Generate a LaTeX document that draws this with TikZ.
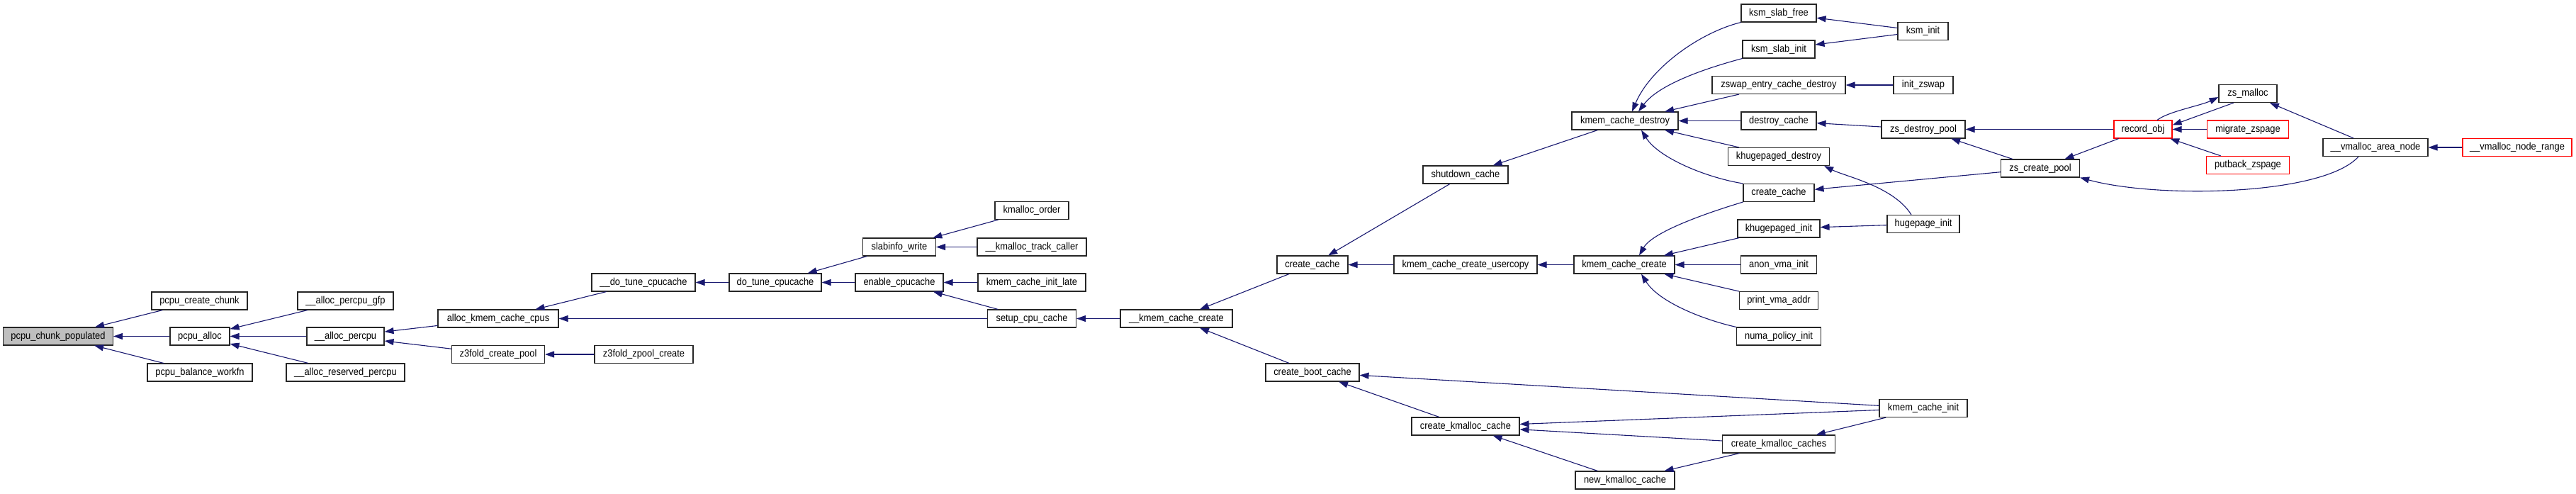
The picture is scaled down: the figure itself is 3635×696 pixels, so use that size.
\documentclass[tikz,border=0pt]{standalone}
\usepackage{fontspec}
\newfontfamily\dotfont{Liberation Sans}[FakeStretch=0.9]
\usetikzlibrary{arrows.meta}
\definecolor{edgeblue}{RGB}{25,25,112}
\definecolor{rootgray}{RGB}{191,191,191}

\begin{document}
\begin{tikzpicture}[x=1pt, y=-1pt, every node/.style={inner sep=0pt},
  fn/.style={draw=black!85, line width=1.1pt, fill=white, minimum height=25pt, font=\dotfont\fontsize{14.3}{16}\selectfont},
  fnred/.style={fn, draw=red},
  call/.style={edgeblue, line width=1.1pt, -{Triangle[length=13pt,width=9pt]}}]
\useasboundingbox (0,0) rectangle (3635,696);
% --- percpu side ---
\node[fn, fill=rootgray, minimum width=155pt] (populated) at (82,474.5) {pcpu\_chunk\_populated};
\node[fn, minimum width=135pt] (createchunk) at (281.5,424.5) {pcpu\_create\_chunk};
\node[fn, minimum width=84pt] (pcpualloc) at (282,474.5) {pcpu\_alloc};
\node[fn, minimum width=148pt] (balance) at (282,525.5) {pcpu\_balance\_workfn};
\node[fn, minimum width=135pt] (percpugfp) at (487.5,424.5) {\_\_alloc\_percpu\_gfp};
\node[fn, minimum width=109pt] (allocpercpu) at (487.5,474.5) {\_\_alloc\_percpu};
\node[fn, minimum width=167pt] (reserved) at (487.5,525.5) {\_\_alloc\_reserved\_percpu};
\node[fn, minimum width=170pt] (kmemcpus) at (703,449.5) {alloc\_kmem\_cache\_cpus};
\node[fn, minimum width=131pt] (z3pool) at (703,500) {z3fold\_create\_pool};
\node[fn, minimum width=146pt] (dotunex) at (908,398.5) {\_\_do\_tune\_cpucache};
\node[fn, minimum width=139pt] (z3zpool) at (908.5,500) {z3fold\_zpool\_create};
\node[fn, minimum width=130pt] (dotune) at (1094,398.5) {do\_tune\_cpucache};
% --- slab side ---
\node[fn, minimum width=103pt] (slabinfo) at (1269,348.5) {slabinfo\_write};
\node[fn, minimum width=124pt] (enablecc) at (1269,398.5) {enable\_cpucache};
\node[fn, minimum width=104pt] (kmorder) at (1456,297) {kmalloc\_order};
\node[fn, minimum width=154pt] (trackcaller) at (1456,348.5) {\_\_kmalloc\_track\_caller};
\node[fn, minimum width=152pt] (initlate) at (1456,398.5) {kmem\_cache\_init\_late};
\node[fn, minimum width=125pt] (setupcc) at (1456,449.5) {setup\_cpu\_cache};
\node[fn, minimum width=158pt] (kcreatex) at (1660,449.5) {\_\_kmem\_cache\_create};
\node[fn, minimum width=100pt] (cachea) at (1852,373.5) {create\_cache};
\node[fn, minimum width=132pt] (bootcache) at (1852,525.5) {create\_boot\_cache};
\node[fn, minimum width=120pt] (shutdown) at (2068,246.5) {shutdown\_cache};
\node[fn, minimum width=202pt] (usercopy) at (2068,373.5) {kmem\_cache\_create\_usercopy};
\node[fn, minimum width=152pt] (kmcache) at (2068,601.5) {create\_kmalloc\_cache};
\node[fn, minimum width=150pt] (destroy) at (2293,170.5) {kmem\_cache\_destroy};
\node[fn, minimum width=142pt] (kcreate) at (2292,373.5) {kmem\_cache\_create};
\node[fn, minimum width=140pt] (newkm) at (2293,677.5) {new\_kmalloc\_cache};
% --- callers of the kmem_cache api ---
\node[fn, minimum width=106pt] (ksmfree) at (2510,18.5) {ksm\_slab\_free};
\node[fn, minimum width=102pt] (ksmslab) at (2510,69.5) {ksm\_slab\_init};
\node[fn, minimum width=188pt] (zswapdestroy) at (2510,120) {zswap\_entry\_cache\_destroy};
\node[fn, minimum width=106pt] (destroycache) at (2510,170.5) {destroy\_cache};
\node[fn, minimum width=143pt] (khdestroy) at (2510,221) {khugepaged\_destroy};
\node[fn, minimum width=100pt] (cacheb) at (2510,272) {create\_cache};
\node[fn, minimum width=116pt] (khinit) at (2510,322.5) {khugepaged\_init};
\node[fn, minimum width=107pt] (anonvma) at (2510,373.5) {anon\_vma\_init};
\node[fn, minimum width=111pt] (printvma) at (2510,424) {print\_vma\_addr};
\node[fn, minimum width=119pt] (numa) at (2510,474.5) {numa\_policy\_init};
\node[fn, minimum width=159pt] (kmcaches) at (2510,626.5) {create\_kmalloc\_caches};
\node[fn, minimum width=71pt] (ksminit) at (2713.5,44) {ksm\_init};
\node[fn, minimum width=84pt] (initzswap) at (2714,120) {init\_zswap};
\node[fn, minimum width=118pt] (zsdestroy) at (2714,182.5) {zs\_destroy\_pool};
\node[fn, minimum width=102pt] (hugeinit) at (2714,316) {hugepage\_init};
\node[fn, minimum width=124pt] (kcinit) at (2714,576) {kmem\_cache\_init};
% --- zsmalloc / vmalloc ---
\node[fn, minimum width=111pt] (zscreate) at (2879,237.5) {zs\_create\_pool};
\node[fnred, minimum width=82pt] (recordobj) at (3024,182.5) {record\_obj};
\node[fn, minimum width=82pt] (zsmalloc) at (3172,132) {zs\_malloc};
\node[fnred, minimum width=115pt] (migrate) at (3172,182.5) {migrate\_zspage};
\node[fnred, minimum width=117pt] (putback) at (3172,233) {putback\_zspage};
\node[fn, minimum width=148pt] (vmarea) at (3352,208) {\_\_vmalloc\_area\_node};
\node[fnred, minimum width=154pt] (vmrange) at (3552,208) {\_\_vmalloc\_node\_range};
% --- calls ---
\foreach \a/\b in {createchunk/populated, pcpualloc/populated, balance/populated,
  percpugfp/pcpualloc, allocpercpu/pcpualloc, reserved/pcpualloc,
  kmemcpus/allocpercpu, z3pool/allocpercpu, dotunex/kmemcpus, setupcc/kmemcpus, z3zpool/z3pool,
  dotune/dotunex, slabinfo/dotune, enablecc/dotune, kmorder/slabinfo, trackcaller/slabinfo,
  initlate/enablecc, setupcc/enablecc, kcreatex/setupcc, cachea/kcreatex, bootcache/kcreatex,
  shutdown/cachea, usercopy/cachea, destroy/shutdown, kcreate/usercopy,
  zswapdestroy/destroy, destroycache/destroy, khdestroy/destroy,
  ksminit/ksmfree, ksminit/ksmslab, initzswap/zswapdestroy, zsdestroy/destroycache,
  zscreate/cacheb, hugeinit/khinit, khinit/kcreate, anonvma/kcreate, printvma/kcreate,
  recordobj/zsdestroy, zscreate/zsdestroy, recordobj/zscreate, migrate/recordobj, putback/recordobj,
  vmarea/zsmalloc, vmrange/vmarea,
  kcinit/bootcache, kmcache/bootcache, kcinit/kmcache, kmcaches/kmcache, newkm/kmcache,
  kcinit/kmcaches, kmcaches/newkm}
  \draw[call] (\a) -- (\b);
% curved ones
\draw[call] (ksmfree.south west) .. controls +(-60,15) and +(25,-60) .. ([xshift=10pt]destroy.north);
\draw[call] (ksmslab.south west) .. controls +(-45,12) and +(30,-40) .. ([xshift=19pt]destroy.north);
\draw[call] (cacheb.north west) .. controls +(-50,-8) and +(25,40) .. ([xshift=23pt]destroy.south);
\draw[call] ([xshift=-17pt]hugeinit.north) .. controls +(-25,-40) and +(30,15) .. ([xshift=-8pt]khdestroy.south east);
\draw[call] (cacheb.south west) .. controls +(-40,12) and +(20,-35) .. ([xshift=21pt]kcreate.north);
\draw[call] (numa.north west) .. controls +(-45,-10) and +(25,40) .. ([xshift=24pt]kcreate.south);
\draw[call] ([xshift=-24pt]vmarea.south) .. controls +(-50,55) and +(110,30) .. (zscreate.south east);
\draw[call] ([xshift=20pt]recordobj.north) .. controls +(15,-12) and +(-25,12) .. ([yshift=-5pt]zsmalloc.west);
\draw[call] ([xshift=-20pt]zsmalloc.south) -- ([yshift=6pt]recordobj.east);
\end{tikzpicture}
\end{document}
